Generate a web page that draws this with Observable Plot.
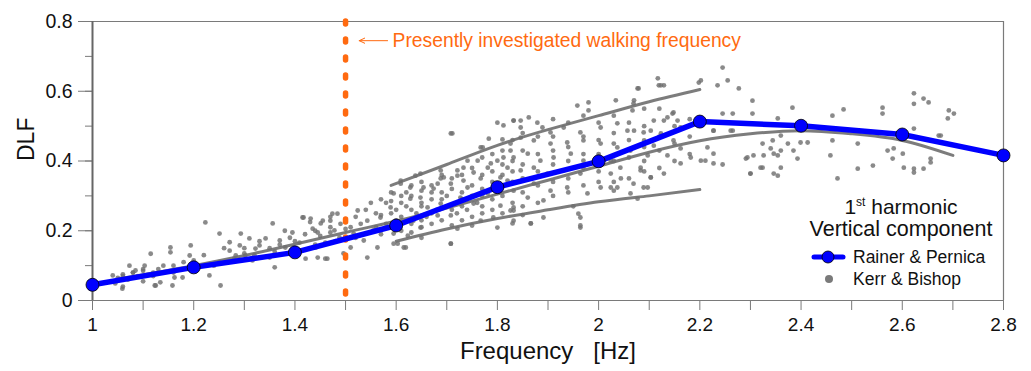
<!DOCTYPE html>
<html>
<head>
<meta charset="utf-8">
<script src="https://cdn.jsdelivr.net/npm/d3@7"></script>
<script src="https://cdn.jsdelivr.net/npm/@observablehq/plot@0.6"></script>
<style>
  body { margin: 0; background: #fff; font-family: "Liberation Sans", Arial, sans-serif; }
  #wrap { position: relative; width: 1031px; height: 371px; }
  .lg { position: absolute; color: #111; white-space: nowrap; }
  svg text { white-space: pre; }
</style>
</head>
<body>
<div id="wrap"></div>
<script>
// ---- Data ----
const frequency = [1.0, 1.2, 1.4, 1.6, 1.8, 2.0, 2.2, 2.4, 2.6, 2.8];
const dlfRainerPernica = [0.045, 0.095, 0.138, 0.215, 0.325, 0.399, 0.513, 0.501, 0.476, 0.416];

// Kerr & Bishop: dense streaks of points (traced)
const streakUpper = [[1.59,0.33],[1.7,0.39],[1.8,0.445],[1.9,0.49],[2.0,0.53],[2.1,0.57],[2.2,0.605]];
const streakLower = [[1.6,0.17],[1.7,0.205],[1.8,0.235],[1.9,0.26],[2.0,0.283],[2.1,0.30],[2.2,0.318]];
const streakMiddle = [[1.05,0.062],[1.2,0.1],[1.35,0.145],[1.5,0.195],[1.6,0.228],[1.7,0.265],[1.8,0.305],[1.9,0.345],[2.0,0.385],[2.1,0.425],[2.2,0.458],[2.3,0.478],[2.4,0.487],[2.5,0.478],[2.6,0.459],[2.7,0.416]];

// Kerr & Bishop: individual points [frequency, DLF]
const kerrBishop = [
[1.223,0.224],[1.251,0.192],[1.293,0.192],[1.271,0.167],[1.154,0.152],[1.154,0.138],[1.194,0.158],[1.115,0.134],[1.192,0.129],[1.103,0.100],[1.073,0.100],[1.085,0.086],[1.123,0.043],[1.059,0.034],[1.158,0.043],[1.178,0.066],[1.253,0.043],[1.231,0.072],[1.040,0.072],[1.045,0.049],[1.134,0.052],[1.162,0.066],[1.330,0.158],[1.356,0.221],[1.302,0.129],[1.360,0.095],[1.342,0.178],[1.271,0.143],[1.415,0.238],[1.395,0.195],[1.381,0.152],[1.435,0.206],[1.441,0.152],[1.460,0.120],[1.474,0.249],[1.455,0.229],[1.488,0.181],[1.421,0.120],[1.316,0.115],[1.350,0.123],[1.291,0.158],[1.310,0.178],[1.322,0.149],[1.370,0.172],[1.409,0.166],[1.460,0.166],[1.478,0.201],[1.283,0.129],
[1.05,0.065],[1.06,0.075],[1.07,0.06],[1.08,0.08],[1.09,0.07],[1.1,0.085],[1.12,0.08],[1.13,0.09],[1.06,0.04],[1.1,0.055],[1.125,0.043],[1.16,0.1],[1.2,0.115],
[1.56,0.25],[1.58,0.28],[1.60,0.26],[1.62,0.27],[1.64,0.25],[1.66,0.24],[1.60,0.23],[1.63,0.22],[1.58,0.22],[1.65,0.28],[1.68,0.26],[1.70,0.27],[1.72,0.25],[1.74,0.26],[1.76,0.28],[1.70,0.30],[1.73,0.31],[1.77,0.30],[1.67,0.31],[1.62,0.31],[1.56,0.21],[1.53,0.22],[1.51,0.21],[1.49,0.22],[1.47,0.21],[1.44,0.2],[1.42,0.19],[1.39,0.18],[1.37,0.16],[1.33,0.17],[1.30,0.15],[1.26,0.15],[1.22,0.13],[1.18,0.11],[1.14,0.1],[1.10,0.09],[1.08,0.08],[1.06,0.07],[1.12,0.07],[1.16,0.08],[1.20,0.09],[1.24,0.1],[1.28,0.12],[1.32,0.13],[1.36,0.14],[1.40,0.15],[1.44,0.16],[1.48,0.17],[1.52,0.18],
[1.638,0.358],[1.609,0.335],[1.595,0.307],[1.628,0.292],[1.648,0.295],[1.674,0.321],[1.688,0.350],[1.708,0.335],[1.662,0.267],[1.682,0.244],[1.708,0.244],[1.589,0.267],[1.569,0.238],[1.543,0.229],[1.555,0.201],[1.524,0.258],[1.484,0.249],[1.470,0.229],[1.451,0.221],[1.431,0.235],[1.417,0.238],[1.445,0.195],[1.470,0.195],[1.516,0.192],[1.536,0.172],[1.543,0.123],[1.510,0.152],[1.496,0.135],[1.464,0.120],[1.445,0.123],[1.563,0.152],[1.603,0.163],[1.615,0.152],[1.708,0.163],[1.595,0.192],[1.623,0.186],[1.648,0.209],[1.634,0.229],[1.688,0.278],[1.727,0.295],[1.741,0.324],[1.753,0.278],[1.767,0.350],[1.781,0.307],[1.806,0.272],[1.826,0.258],[1.832,0.229],[1.792,0.238],[1.767,0.229],[1.721,0.206],[1.733,0.344],[1.694,0.353],[1.721,0.373],[1.753,0.367],[1.781,0.381],[1.800,0.401],[1.767,0.439],[1.741,0.401],[1.806,0.353],
[2.117,0.637],[2.119,0.617],[2.129,0.617],[2.198,0.625],[2.077,0.608],[1.958,0.559],[1.980,0.568],[2.034,0.574],[1.980,0.545],[2.069,0.565],[2.067,0.545],[2.148,0.539],[2.136,0.525],[2.109,0.516],[1.832,0.516],[1.862,0.525],[1.879,0.510],[1.889,0.496],[1.846,0.496],[1.812,0.502],[1.905,0.482],[1.931,0.496],[1.964,0.482],[2.004,0.496],[2.037,0.508],[2.057,0.487],[2.089,0.482],[2.123,0.479],[2.162,0.496],[2.109,0.444],[2.148,0.459],[2.136,0.416],[2.097,0.416],[2.063,0.430],[2.037,0.439],[2.004,0.450],[1.970,0.459],[1.938,0.453],[1.905,0.450],[1.872,0.459],[1.846,0.467],[1.826,0.450],[1.832,0.410],[1.860,0.421],[1.885,0.401],[1.911,0.410],[1.945,0.421],[1.970,0.401],[1.820,0.381],[1.846,0.373],[1.872,0.381],[1.899,0.364],[1.931,0.373],[1.964,0.364],[2.024,0.364],[2.043,0.381],[2.083,0.373],[2.103,0.353],[2.069,0.335],[2.089,0.324],[2.077,0.292],[2.037,0.324],[2.004,0.324],[1.978,0.307],[1.938,0.324],[1.905,0.315],[1.872,0.335],[1.832,0.315],[1.820,0.344],[1.860,0.295],[1.891,0.287],[1.832,0.267],[1.960,0.249],[1.964,0.215],[1.866,0.221],[1.830,0.221],[2.202,0.401],[2.215,0.439],[2.227,0.421],
[2.245,0.668],[2.235,0.617],[2.255,0.631],[2.277,0.608],[2.304,0.573],[2.304,0.536],[2.245,0.536],[2.265,0.536],[2.383,0.553],[2.354,0.522],[2.265,0.487],[2.227,0.487],[2.462,0.530],[2.484,0.548],[2.561,0.553],[2.561,0.536],[2.623,0.594],[2.623,0.564],[2.642,0.579],[2.652,0.568],[2.692,0.545],[2.702,0.536],[2.690,0.522],[2.623,0.493],[2.672,0.473],[2.462,0.459],[2.512,0.450],[2.583,0.436],[2.571,0.430],[2.360,0.473],[2.344,0.459],[2.374,0.450],[2.399,0.453],[2.413,0.453],[2.324,0.450],[2.340,0.436],[2.360,0.430],[2.385,0.430],[2.306,0.416],[2.326,0.416],[2.354,0.416],[2.291,0.407],[2.211,0.401],[2.245,0.390],[2.393,0.407],[2.458,0.416],[2.581,0.407],[2.601,0.421],[2.656,0.407],[2.656,0.396],[2.603,0.381],[2.623,0.378],[2.642,0.378],[2.623,0.367],[2.542,0.387],[2.512,0.378],[2.472,0.350],[2.360,0.381],[2.324,0.381],[2.300,0.364],[2.354,0.358],[2.676,0.473],
[2.202,0.631],[2.123,0.617],[2.079,0.608],[2.070,0.574],[2.146,0.536],[2.129,0.516],[2.156,0.516],[2.070,0.487],[2.103,0.487],[2.090,0.459],[2.162,0.436],[2.182,0.410],[2.024,0.401],[2.083,0.381],[2.103,0.353],[2.044,0.350],[2.024,0.324],
[1.711,0.479],[1.800,0.510],[1.832,0.516],[1.846,0.516],[1.783,0.464],[1.810,0.462],[1.771,0.439],[1.826,0.430],[1.648,0.364],[1.688,0.373],[1.721,0.358],[1.733,0.381],[1.761,0.401],[1.787,0.393],[1.812,0.410],[1.609,0.344],[1.628,0.324],[1.654,0.324],[1.682,0.335],
[1.708,0.479],[1.964,0.238],[1.964,0.209],[1.708,0.163],[1.619,0.152],[1.595,0.163],[1.800,0.209],[1.866,0.221],[1.832,0.258],[1.891,0.238],[2.030,0.315],[2.063,0.307],[2.097,0.324],[2.129,0.364],[2.162,0.393],[2.227,0.393],[2.294,0.410],[2.320,0.381],[2.300,0.364],[2.346,0.364],[2.346,0.421],[2.227,0.487],[2.261,0.487],
[1.57,0.19],[1.57,0.245],[1.57,0.29],[1.59,0.21],[1.59,0.25],[1.59,0.285],[1.59,0.31],[1.61,0.20],[1.61,0.24],[1.61,0.28],[1.61,0.30],[1.63,0.195],[1.63,0.26],[1.63,0.30],[1.63,0.33],[1.65,0.21],[1.65,0.23],[1.65,0.27],[1.65,0.315],[1.65,0.34],[1.67,0.22],[1.67,0.25],[1.67,0.29],[1.67,0.33],[1.69,0.23],[1.69,0.29],[1.69,0.31],[1.69,0.36],[1.71,0.215],[1.71,0.26],[1.71,0.32],[1.71,0.35],[1.73,0.23],[1.73,0.27],[1.73,0.29],[1.73,0.36],[1.75,0.24],[1.75,0.30],[1.75,0.33],[1.75,0.38],[1.77,0.25],[1.77,0.27],[1.77,0.32],[1.77,0.36],[1.77,0.41],[1.79,0.26],[1.79,0.29],[1.79,0.34],[1.79,0.37],[1.79,0.42],[1.81,0.25],[1.81,0.30],[1.81,0.36],[1.81,0.39],[1.81,0.43],[1.83,0.28],[1.83,0.34],[1.83,0.37],[1.83,0.40],[1.83,0.46],[1.85,0.27],[1.85,0.31],[1.85,0.35],[1.85,0.39],[1.85,0.43],[1.85,0.48],[1.88,0.28],[1.88,0.33],[1.88,0.37],[1.88,0.42],[1.88,0.47],[1.91,0.30],[1.91,0.34],[1.91,0.39],[1.91,0.43],[1.91,0.47],[1.91,0.52],[1.94,0.31],[1.94,0.35],[1.94,0.40],[1.94,0.44],[1.94,0.51],[1.97,0.33],[1.97,0.38],[1.97,0.42],[1.97,0.47],[1.97,0.53],[2.00,0.34],[2.00,0.37],[2.00,0.42],[2.00,0.46],[2.00,0.51],[2.03,0.34],[2.03,0.40],[2.03,0.45],[2.03,0.48],[2.03,0.53],[2.06,0.35],[2.06,0.41],[2.06,0.46],[2.06,0.51],[2.09,0.37],[2.09,0.40],[2.09,0.44],[2.09,0.50],[2.09,0.55],[2.12,0.38],[2.12,0.43],[2.12,0.47],[2.12,0.55],[2.15,0.40],[2.15,0.45],[2.15,0.50],[2.18,0.42],[2.18,0.47],[2.18,0.52],
[1.65,0.18],[1.75,0.215],[1.85,0.245],[1.95,0.27],[1.25,0.11],[1.3,0.135],[1.35,0.15],[1.4,0.17],[1.45,0.185],[1.5,0.205],[1.38,0.2],[1.43,0.225],[1.47,0.24],[1.5,0.23],[1.52,0.24],[1.54,0.26],[1.55,0.28]
];

// ---- Annotation constants ----
const walkFreq = 1.5;
const annotDLF = 0.745;
const arrowTail = 1.583, arrowHead = 1.527;
const annotText = "Presently investigated walking frequency";
const orange = "#ff6a10";

const xMajor = d3.range(0, 10).map(i => +(1 + i * 0.2).toFixed(1));
const xMinor = d3.range(0, 19).map(i => +(1 + i * 0.1).toFixed(1));
const yMajor = [0, 0.2, 0.4, 0.6, 0.8];
const yMinor = d3.range(0, 9).map(i => +(i * 0.1).toFixed(1));
const fmt = d => String(+(+d).toFixed(1));

const rp = frequency.map((f, i) => ({f, d: dlfRainerPernica[i]}));
const kb = kerrBishop.map(([f, d]) => ({f, d}));
const toObj = a => a.map(([f, d]) => ({f, d}));

const axisColor = "#7a7a7a";
const xTitle = "Frequency   [Hz]";

const chart = Plot.plot({
  width: 1031,
  height: 371,
  marginLeft: 92,
  marginRight: 28,
  marginTop: 21,
  marginBottom: 71,
  x: {domain: [1, 2.8]},
  y: {domain: [0, 0.8]},
  style: {fontFamily: "'Liberation Sans', Arial, sans-serif", background: "#fff", color: "#111"},
  marks: [
    // frame: top and right
    Plot.ruleY([0.8], {stroke: axisColor, strokeWidth: 1}),
    Plot.ruleX([2.8], {stroke: axisColor, strokeWidth: 1.2}),
    // scatter
    Plot.dot(kb, {x: "f", y: "d", r: 2.4, fill: "#707070", fillOpacity: 0.82}),
    Plot.line(toObj(streakUpper), {x: "f", y: "d", stroke: "#6e6e6e", strokeWidth: 3, strokeOpacity: 0.9, curve: "natural"}),
    Plot.line(toObj(streakLower), {x: "f", y: "d", stroke: "#6e6e6e", strokeWidth: 3, strokeOpacity: 0.9, curve: "natural"}),
    Plot.line(toObj(streakMiddle), {x: "f", y: "d", stroke: "#6e6e6e", strokeWidth: 3, strokeOpacity: 0.9, curve: "natural"}),
    // walking frequency
    Plot.ruleX([walkFreq], {stroke: orange, strokeWidth: 5.5, strokeDasharray: "3,15", strokeLinecap: "round"}),
    Plot.arrow([0], {x1: arrowTail, x2: arrowHead, y1: annotDLF, y2: annotDLF, stroke: orange, strokeWidth: 1, headLength: 9, headAngle: 50}),
    Plot.text([annotText], {x: walkFreq, y: annotDLF, dx: 47, textAnchor: "start", fill: orange, fontSize: 19.3}),
    // axes
    Plot.axisX(xMinor, {tickSize: 10, tickFormat: () => "", stroke: axisColor, label: null}),
    Plot.axisX(xMajor, {tickSize: 0, tickPadding: 17, tickFormat: fmt, fontSize: 19, label: null, fill: "#111"}),
    Plot.axisY(yMinor, {tickSize: 7, tickFormat: () => "", stroke: axisColor, label: null}),
    Plot.axisY(yMajor, {tickSize: 14, tickPadding: 6, tickFormat: fmt, fontSize: 19.5, label: null, stroke: axisColor, fill: "#111"}),
    Plot.ruleX([1], {stroke: "#666", strokeWidth: 2}),
    Plot.ruleY([0], {stroke: axisColor, strokeWidth: 1.2}),
    Plot.text([xTitle], {frameAnchor: "bottom", dy: 58, fontSize: 24, fill: "#111"}),
    Plot.text(["DLF"], {frameAnchor: "left", dx: -66, rotate: -90, fontSize: 23, fill: "#111"}),
    // Rainer & Pernica
    Plot.line(rp, {x: "f", y: "d", stroke: "#0000ff", strokeWidth: 5.5}),
    Plot.dot(rp, {x: "f", y: "d", r: 6.5, fill: "#0000ff", stroke: "#000", strokeWidth: 0.8})
  ]
});
const wrap = document.getElementById("wrap");
wrap.appendChild(chart);

// Legend overlay
const legend = document.createElement("div");
legend.innerHTML = `
  <div class="lg" style="left:791px; top:195px; width:220px; text-align:center; font-size:21px; line-height:23px;">1<sup style="font-size:12px; vertical-align: 8px; line-height:0;">st</sup> harmonic</div>
  <div class="lg" style="left:791px; top:218px; width:220px; text-align:center; font-size:21.5px; line-height:23px;">Vertical component</div>
  <svg class="lg" style="left:811px; top:249px;" width="36" height="16">
    <line x1="3" y1="8" x2="32" y2="8" stroke="#0000ff" stroke-width="5" stroke-linecap="round"/>
    <circle cx="17" cy="8" r="6" fill="#0000ff" stroke="#000" stroke-width="0.8"/>
  </svg>
  <div class="lg" style="left:853px; top:247px; font-size:17.5px; line-height:20px;">Rainer &amp; Pernica</div>
  <svg class="lg" style="left:822px; top:272px;" width="14" height="14">
    <circle cx="7" cy="7" r="4" fill="#7a7a7a"/>
  </svg>
  <div class="lg" style="left:853px; top:269px; font-size:17.5px; line-height:20px;">Kerr &amp; Bishop</div>
`;
legend.style.position = "absolute";
legend.style.left = "0"; legend.style.top = "0";
wrap.appendChild(legend);
</script>
</body>
</html>
